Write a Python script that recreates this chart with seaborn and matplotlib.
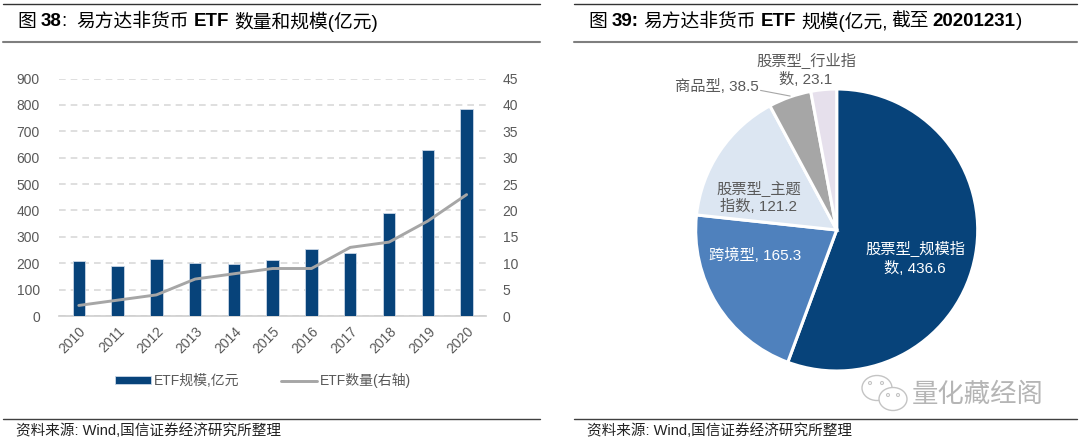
import matplotlib
matplotlib.use('Agg')
import matplotlib.pyplot as plt
from matplotlib.patches import Ellipse
import pandas as pd
import seaborn as sns

# Data
years = ['2010', '2011', '2012', '2013', '2014', '2015', '2016', '2017', '2018', '2019', '2020']
etf_size = [210, 189, 216, 201, 198, 214, 255, 239, 391, 630, 785]
etf_count = [2, 3, 4, 7, 8, 9, 9, 13, 14, 18, 23]
left_ticks = [0, 100, 200, 300, 400, 500, 600, 700, 800, 900]
right_ticks = [0, 5, 10, 15, 20, 25, 30, 35, 40, 45]

pie_names = ['股票型_规模指\n数', '跨境型', '股票型_主题\n指数', '商品型', '股票型_行业指\n数']
pie_values = [436.6, 165.3, 121.2, 38.5, 23.1]

# Colours
NAVY = '#07437A'
BLUE = '#4F81BD'
PALE = '#DCE6F2'
GREY = '#A6A6A6'
LILAC = '#E6E0EC'
TICK = '#595959'

sns.set_theme(style='white')
FONT = ['Liberation Sans', 'Noto Sans CJK SC', 'DejaVu Sans']
plt.rcParams['font.family'] = FONT

W, H = 1080, 442
fig = plt.figure(figsize=(W / 100, H / 100), dpi=100)


def px_axes(x0, y0, x1, y1):
    # axes box given in image pixels (y from the top)
    return fig.add_axes([x0 / W, 1 - y1 / H, (x1 - x0) / W, (y1 - y0) / H])


# Bar + line chart
df = pd.DataFrame({'year': years, 'size': etf_size, 'count': etf_count})
ax = px_axes(59.4, 78.5, 486, 316)
sns.barplot(data=df, x='year', y='size', color=NAVY, width=0.32, saturation=1,
            edgecolor='#C9D6E6', linewidth=0.6, label='ETF规模,亿元', ax=ax, zorder=3)
ax.set_ylim(0, 900)
ax.set_xlim(-0.5, 10.5)
ax.set_yticks(left_ticks)
ax.set_xlabel('')
ax.set_ylabel('')
ax.yaxis.grid(True, color='#D9D9D9', linestyle=(0, (4, 3)), linewidth=1.2)
ax.set_axisbelow(True)
for s in ['top', 'left', 'right']:
    ax.spines[s].set_visible(False)
ax.spines['bottom'].set_color('#D0D0D0')
ax.tick_params(axis='y', length=0, labelsize=10, labelcolor=TICK, pad=14)
ax.tick_params(axis='x', length=0, labelsize=10, labelcolor=TICK, pad=6)
for lab in ax.get_xticklabels():
    lab.set_rotation(45)
    lab.set_ha('right')
    lab.set_rotation_mode('anchor')

ax2 = ax.twinx()
sns.lineplot(data=df, x='year', y='count', color=GREY, linewidth=2.1, label='ETF数量(右轴)',
             ax=ax2, zorder=4, legend=False)
ax2.set_ylim(0, 45)
ax2.set_yticks(right_ticks)
ax2.set_ylabel('')
ax2.tick_params(axis='y', length=0, labelsize=10, labelcolor=TICK, pad=12)
for s in ax2.spines.values():
    s.set_visible(False)

h1, l1 = ax.get_legend_handles_labels()
h2, l2 = ax2.get_legend_handles_labels()
ax.legend(h1 + h2, ['ETF规模,亿元', 'ETF数量(右轴)'], ncol=2, frameon=False, fontsize=10,
          labelcolor=TICK, loc='center', bbox_to_anchor=(0.478, -0.272), handlelength=2.55,
          handleheight=0.55, handletextpad=0.25, columnspacing=3.0)

# Pie chart
pie_ax = px_axes(836.7 - 141 * 1.3, 230 - 141 * 1.3, 836.7 + 141 * 1.3, 230 + 141 * 1.3)
pie_ax.pie(pie_values, colors=[NAVY, BLUE, PALE, GREY, LILAC], startangle=90, counterclock=False,
           radius=1, wedgeprops={'edgecolor': 'white', 'linewidth': 2.2})
pie_ax.set_xlim(-1.3, 1.3)
pie_ax.set_ylim(-1.3, 1.3)
pie_ax.set_aspect('equal')
pie_ax.patch.set_visible(False)

label_pos = [(0.555, -0.2), (-0.58, -0.177), (-0.556, 0.234), (-0.85, 1.015), (-0.217, 1.135)]
label_col = ['white', 'white', TICK, TICK, TICK]
for name, val, (lx, ly), c in zip(pie_names, pie_values, label_pos, label_col):
    pie_ax.text(lx, ly, f'{name}, {val}', ha='center', va='center', color=c, fontsize=11,
                linespacing=1.3)
pie_ax.plot([-0.54, -0.33, -0.33], [0.985, 0.985, 0.95], alpha=0)
pie_ax.plot([-0.54, -0.33], [0.99, 0.95], color='#A6A6A6', linewidth=0.8)

# Overlay in image pixels for rules, titles, source lines and watermark
top = fig.add_axes([0, 0, 1, 1])
top.set_xlim(0, W)
top.set_ylim(H, 0)
top.axis('off')
top.patch.set_visible(False)

for x0, x1 in [(3, 540), (574, 1077)]:
    top.plot([x0, x1], [3.5, 3.5], color='#333333', linewidth=1.0)
    top.plot([x0, x1], [41.7, 41.7], color='#7F7F7F', linewidth=1.5)
    top.plot([x0, x1], [419, 419], color='#404040', linewidth=1.0)


def draw_runs(x, y, runs, size=13.5):
    # lay text pieces one after the other, Latin bold and Chinese regular
    r = fig.canvas.get_renderer()
    for text, weight, gap in runs:
        t = top.text(x, y, text, fontsize=size, fontweight=weight, va='center', ha='left', color='black')
        x = top.transData.inverted().transform(t.get_window_extent(r))[1][0] + gap


draw_runs(17, 22, [('图', 'normal', 5), ('38', 'bold', 0), (':', 'normal', 9), ('易方达非货币', 'normal', 5),
                   ('ETF', 'bold', 5), ('数量和规模(亿元)', 'normal', 0)])
draw_runs(588, 22, [('图', 'normal', 5), ('39:', 'bold', 5), ('易方达非货币', 'normal', 5), ('ETF', 'bold', 5),
                    ('规模(亿元,', 'normal', 3), ('截至', 'normal', 4), ('20201231', 'bold', 0), (')', 'normal', 0)])

for x in [16, 587]:
    top.text(x, 431, '资料来源: Wind,国信证券经济研究所整理', fontsize=10.5, color='#222222',
             va='center', ha='left')

# Watermark
top.text(912, 395, '量化藏经阁', fontsize=19, color='#B5B5B5', va='center', ha='left')
top.add_patch(Ellipse((877, 388), 30, 25, facecolor='white', edgecolor='#C4C4C4', linewidth=1))
top.add_patch(Ellipse((893, 399), 28, 23, facecolor='white', edgecolor='#C4C4C4', linewidth=1))
for ex, ey in [(870, 383), (882, 383), (888, 395), (898, 395)]:
    top.add_patch(Ellipse((ex, ey), 3, 3, facecolor='none', edgecolor='#C4C4C4', linewidth=0.8))

fig.savefig('out.png', dpi=100, facecolor='white')
